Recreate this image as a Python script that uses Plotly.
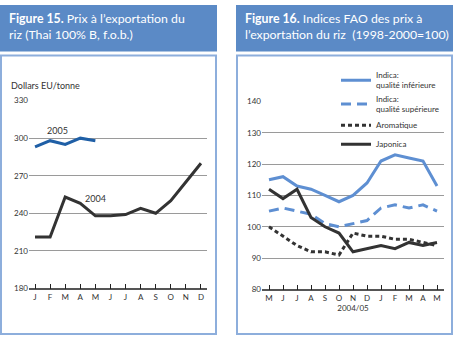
import plotly.graph_objects as go

# Figure 15 data
months_15 = ["J", "F", "M", "A", "M", "J", "J", "A", "S", "O", "N", "D"]
prix_2004 = [221, 221, 253, 248, 238, 238, 239, 244, 240, 250, 265, 280]
prix_2005 = [293, 298, 295, 300, 298]

# Figure 16 data
months_16 = ["M", "J", "J", "A", "S", "O", "N", "D", "J", "F", "M", "A", "M"]
indica_inf = [115, 116, 113, 112, 110, 108, 110, 114, 121, 123, 122, 121, 113]
indica_sup = [105, 106, 105, 104, 101, 100, 101, 102, 106, 107, 106, 107, 105]
aromatique = [100, 97, 94, 92, 92, 91, 98, 97, 97, 96, 96, 95, 94]
japonica = [112, 109, 112, 103, 100, 98, 92, 93, 94, 93, 95, 94, 95]

W, H = 453, 340
FONT = "Lato"
BLUE_HDR = "#5B8AC6"
BORDER = "#8DAEDC"
GRID = "#9A9A9A"
AXIS = "#555555"


def px(x):
    return x / W


def py(y):
    return 1 - y / H


fig = go.Figure()

x15 = list(range(len(months_15)))
fig.add_trace(go.Scatter(x=x15, y=prix_2004, mode="lines", xaxis="x", yaxis="y",
                         line=dict(color="#333333", width=3), showlegend=False))
fig.add_trace(go.Scatter(x=x15[:len(prix_2005)], y=prix_2005, mode="lines", xaxis="x", yaxis="y",
                         line=dict(color="#1F5FA6", width=3), showlegend=False))

x16 = list(range(len(months_16)))
fig.add_trace(go.Scatter(x=x16, y=indica_inf, mode="lines", xaxis="x2", yaxis="y2",
                         name="Indica:<br>qualité inférieure",
                         line=dict(color="#5E8FD2", width=3)))
fig.add_trace(go.Scatter(x=x16, y=indica_sup, mode="lines", xaxis="x2", yaxis="y2",
                         name="Indica:<br>qualité supérieure",
                         line=dict(color="#5E8FD2", width=3, dash="10px,6px")))
fig.add_trace(go.Scatter(x=x16, y=aromatique, mode="lines", xaxis="x2", yaxis="y2",
                         name="Aromatique",
                         line=dict(color="#333333", width=3, dash="4px,3px")))
fig.add_trace(go.Scatter(x=x16, y=japonica, mode="lines", xaxis="x2", yaxis="y2",
                         name="Japonica",
                         line=dict(color="#333333", width=3)))

axis_common = dict(showgrid=False, showline=True, linecolor=AXIS, linewidth=1.5,
                   ticks="inside", ticklen=5, tickcolor="#222222", tickwidth=1,
                   tickfont=dict(size=8, color="#333333", family=FONT), zeroline=False)
yaxis_common = dict(showgrid=True, gridcolor=GRID, gridwidth=1, showline=False,
                    ticks="", tickfont=dict(size=8, color="#333333", family=FONT),
                    zeroline=False)

fig.update_layout(
    width=W, height=H,
    margin=dict(l=0, r=0, t=0, b=0),
    paper_bgcolor="white", plot_bgcolor="white",
    font=dict(family=FONT, color="#333333"),
    xaxis=dict(domain=[px(29), px(207)], range=[-0.4, 11.4], tickvals=x15, ticktext=months_15,
               anchor="y", **axis_common),
    yaxis=dict(domain=[py(292), py(98.5)], range=[180, 330], dtick=30, anchor="x", **yaxis_common),
    xaxis2=dict(domain=[px(262), px(444)], range=[-0.5, 12.5], tickvals=x16, ticktext=months_16,
                anchor="y2", title=dict(text="2004/05", font=dict(size=8, family=FONT), standoff=2),
                **axis_common),
    yaxis2=dict(domain=[py(293), py(99.5)], range=[80, 140], dtick=10, anchor="x2", **yaxis_common),
    legend=dict(x=px(336), y=py(60), xanchor="left", yanchor="top", bgcolor="rgba(0,0,0,0)",
                font=dict(size=8, family=FONT, color="#333333"), itemwidth=30,
                tracegroupgap=2),
)

shapes = []
for x0, x1 in [(0, 217), (236, 453)]:
    shapes.append(dict(type="rect", xref="paper", yref="paper", x0=px(x0), x1=px(x1),
                       y0=py(48), y1=py(0), fillcolor=BLUE_HDR, line=dict(width=0), layer="below"))
    shapes.append(dict(type="rect", xref="paper", yref="paper", x0=px(x0 + 1), x1=px(x1 - 1),
                       y0=py(339), y1=py(52), fillcolor="rgba(0,0,0,0)",
                       line=dict(color=BORDER, width=2), layer="below"))
# white patch that breaks the gridlines behind the legend text (drawn under the traces)
shapes.append(dict(type="rect", xref="paper", yref="paper", x0=px(338), x1=px(425),
                   y0=py(138), y1=py(94), fillcolor="white", line=dict(width=0), layer="between"))
fig.update_layout(shapes=shapes)

title_font = dict(size=12.3, color="white", family=FONT)
fig.add_annotation(xref="paper", yref="paper", x=px(7), y=py(4), xanchor="left", yanchor="top",
                   align="left", showarrow=False, font=title_font,
                   text="<b>Figure 15.</b> Prix à l’exportation du<br>riz (Thai 100% B, f.o.b.)")
fig.add_annotation(xref="paper", yref="paper", x=px(243), y=py(4), xanchor="left", yanchor="top",
                   align="left", showarrow=False, font=title_font,
                   text="<b>Figure 16.</b> Indices FAO des prix à<br>l’exportation du riz  (1998-2000=100)")
fig.add_annotation(xref="paper", yref="paper", x=px(9), y=py(83), xanchor="left", yanchor="middle",
                   showarrow=False, font=dict(size=9, family=FONT, color="#333333"),
                   text="Dollars EU/tonne")
fig.add_annotation(xref="x", yref="y", x=1.5, y=306, showarrow=False,
                   font=dict(size=9, family=FONT, color="#333333"), text="2005")
fig.add_annotation(xref="x", yref="y", x=4, y=252, showarrow=False,
                   font=dict(size=9, family=FONT, color="#333333"), text="2004")

# drop the default page margin so the fixed-size figure sits at the window's corner
fig.write_html("out.html", config={"displayModeBar": False},
               post_script="document.body.style.margin='0';")
